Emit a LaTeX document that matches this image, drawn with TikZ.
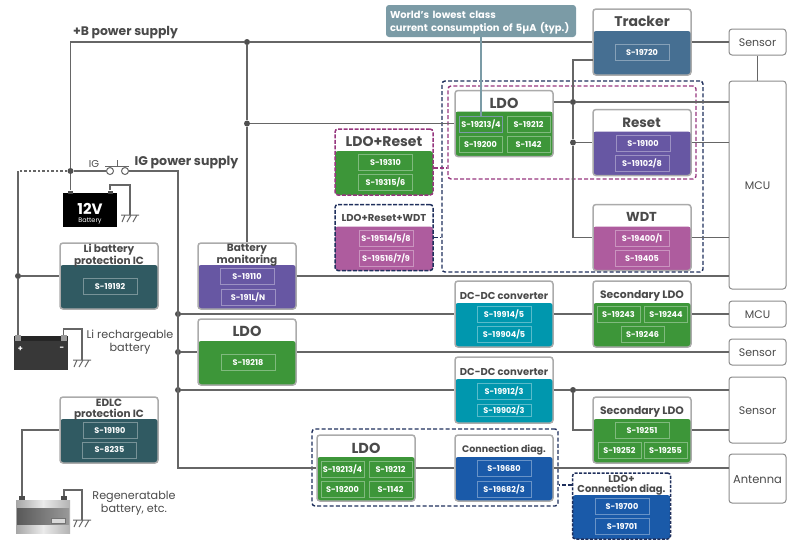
\documentclass[tikz,border=0pt]{standalone}
\usepackage{fontspec}
\setmainfont{Poppins}
\usetikzlibrary{positioning}
\definecolor{wirec}{HTML}{666666}
\definecolor{dotc}{HTML}{4F4F4F}
\definecolor{txtc}{HTML}{4A4A4A}
\definecolor{boxc}{HTML}{ABABAB}
\definecolor{sidec}{HTML}{8C8C8C}
\definecolor{navyc}{HTML}{1F2F5C}
\definecolor{magc}{HTML}{96367E}
\definecolor{greenc}{HTML}{3D9639}
\definecolor{pinkc}{HTML}{AE5C9E}
\definecolor{purplec}{HTML}{6757A3}
\definecolor{steelc}{HTML}{466F92}
\definecolor{tealc}{HTML}{305A62}
\definecolor{cyanc}{HTML}{0097AE}
\definecolor{bluec}{HTML}{1A5AA9}
\definecolor{notec}{HTML}{7B9BA6}
\tikzset{
  wire/.style={draw=wirec,line width=1.2pt},
  dot/.style={circle,fill=dotc,inner sep=0,minimum size=6pt},
  icbox/.style 2 args={draw=boxc,fill=white,line width=1.5pt,rounded corners=3pt,inner sep=0,
    minimum width=98pt,minimum height=66pt,
    path picture={\fill[#1] ([yshift=-#2]path picture bounding box.north west) rectangle (path picture bounding box.south east);}},
  chip/.style={draw=white,draw opacity=.35,line width=.7pt,text=white,inner sep=0,
    minimum width=54pt,minimum height=16pt,font=\bfseries\fontsize{8.1}{8.1}\selectfont},
  chipn/.style={chip,minimum width=43pt},
  ttl/.style={text=txtc,inner sep=0,align=center,yshift=-.5pt,font=\bfseries\fontsize{#1}{#1}\selectfont},
  lab/.style={text=txtc,inner sep=0,align=center,yshift=-.7pt,font=\fontsize{#1}{13}\selectfont},
  sidebox/.style={draw=sidec,fill=white,line width=1pt,rounded corners=3pt,inner sep=0,minimum width=57pt},
  navyframe/.style={draw=navyc,line width=1.4pt,rounded corners=3pt,dash pattern=on 4pt off 2.2pt,inner sep=0},
  magframe/.style={draw=magc,line width=1.4pt,rounded corners=3pt,dash pattern=on 4pt off 2.2pt,inner sep=0},
  gnd/.pic={
    \draw[draw=wirec,line width=1pt] (-9,0)--(9,0) (-5,0)--(-8,7) (1,0)--(-3,7) (7,0)--(3,7);
  }
}
\begin{document}
\begin{tikzpicture}[x=1pt,y=-1pt]
\useasboundingbox (0,0) rectangle (800,550);
\node[icbox={steelc}{22pt}] (tracker) at (642,42) {};
\node[icbox={purplec}{22pt}] (reset) at (642,142.5) {};
\node[icbox={pinkc}{22pt}] (wdt) at (642,237.5) {};
\node[icbox={greenc}{21pt}] (ldoa) at (504,123.5) {};
\node[icbox={greenc}{22pt},draw=magc,dash pattern=on 4pt off 1.5pt] (lr) at (384,162) {};
\node[icbox={pinkc}{22pt},draw=navyc,dash pattern=on 4pt off 1.5pt] (lrw) at (384,237.5) {};
\node[icbox={tealc}{22pt}] (li) at (109,276) {};
\node[icbox={tealc}{22pt}] (edlc) at (109,430) {};
\node[icbox={purplec}{22pt}] (bm) at (247,276) {};
\node[icbox={greenc}{22pt}] (ldob) at (247,352) {};
\node[icbox={cyanc}{22pt}] (dca) at (504,314) {};
\node[icbox={cyanc}{22pt}] (dcb) at (504,390) {};
\node[icbox={greenc}{22pt}] (ldoc) at (366,468) {};
\node[icbox={bluec}{22pt}] (conn) at (504,468) {};
\node[icbox={bluec}{22pt},draw=navyc,dash pattern=on 3pt off 1.5pt] (lc) at (621.5,506) {};
\node[icbox={greenc}{22pt}] (seca) at (642,314) {};
\node[icbox={greenc}{22pt}] (secb) at (642,430) {};
\node[sidebox,minimum height=26pt] (sensa) at (757.5,42) {};
\node[sidebox,minimum height=208pt] (mcua) at (757.5,185) {};
\node[sidebox,minimum height=26pt] (mcub) at (757.5,314) {};
\node[sidebox,minimum height=26pt] (sensb) at (757.5,352) {};
\node[sidebox,minimum height=66pt] (sensc) at (757.5,410) {};
\node[sidebox,minimum height=49pt] (ant) at (757.5,478.5) {};
\node[lab=11] (sensatxt) at (sensa) {Sensor};
\node[lab=11] (mcuatxt) at (mcua) {MCU};
\node[lab=11] (mcubtxt) at (mcub) {MCU};
\node[lab=11] (sensbtxt) at (sensb) {Sensor};
\node[lab=11] (sensctxt) at (sensc) {Sensor};
\node[lab=11.5] (anttxt) at (ant) {Antenna};
\node[ttl=14] (trackertxt) at (642,20.5) {Tracker};
\node[ttl=13.5] (resettxt) at (641.5,122) {Reset};
\node[ttl=13] (wdttxt) at (641.5,216.5) {WDT};
\node[ttl=14.5] (ldoatxt) at (504,103) {LDO};
\node[ttl=14] (lrtxt) at (384,141) {LDO+Reset};
\node[ttl=10] (lrwtxt) at (384,217) {LDO+Reset+WDT};
\node[ttl=10.5] (litxt) at (109,255) {Li battery\\protection IC};
\node[ttl=10.5] (edlctxt) at (109,409) {EDLC\\protection IC};
\node[ttl=10.5] (bmtxt) at (247,255) {Battery\\monitoring};
\node[ttl=14.5] (ldobtxt) at (247,331) {LDO};
\node[ttl=10] (dcatxt) at (504,295) {DC-DC converter};
\node[ttl=10] (dcbtxt) at (504,371) {DC-DC converter};
\node[ttl=14.5] (ldoctxt) at (366,448) {LDO};
\node[ttl=9.5] (conntxt) at (504,449) {Connection diag.};
\node[ttl=10] (lctxt) at (621.5,485) {LDO+\\Connection diag.};
\node[ttl=10.8] (secatxt) at (642,295) {Secondary LDO};
\node[ttl=10.8] (secbtxt) at (642,411) {Secondary LDO};
\node[chip] (c19720) at (642,52.5) {S-19720};
\node[chip] (c19100) at (643,143) {S-19100};
\node[chip] (c19102) at (642,163) {S-19102/8};
\node[chip] (c19400) at (642,238) {S-19400/1};
\node[chip] (c19405) at (642,258) {S-19405};
\node[chipn,draw=notec,draw opacity=1,line width=1.4pt] (c19213a) at (481,124.5) {S-19213/4};
\node[chipn] (c19212a) at (528.5,124.5) {S-19212};
\node[chipn] (c19200a) at (480.5,144) {S-19200};
\node[chipn] (c1142a) at (528.5,144) {S-1142};
\node[chip] (c19310) at (385.5,162) {S-19310};
\node[chip] (c19315) at (385.5,182) {S-19315/6};
\node[chip] (c19514) at (386,238) {S-19514/5/8};
\node[chip] (c19516) at (386,258.5) {S-19516/7/9};
\node[chip] (c19192) at (110,286) {S-19192};
\node[chip] (c19190) at (110,430) {S-19190};
\node[chip] (c8235) at (109.5,450) {S-8235};
\node[chip] (c19110) at (247,276) {S-19110};
\node[chip] (c191ln) at (248,297) {S-191L/N};
\node[chip] (c19218) at (248,362.5) {S-19218};
\node[chip] (c19914) at (504,314.5) {S-19914/5};
\node[chip] (c19904) at (504,334.5) {S-19904/5};
\node[chip] (c19912) at (504,391) {S-19912/3};
\node[chip,minimum height=12pt] (c19902) at (504,410.5) {S-19902/3};
\node[chipn] (c19213b) at (342.5,469) {S-19213/4};
\node[chipn] (c19212b) at (390.5,469) {S-19212};
\node[chipn] (c19200b) at (342.5,489) {S-19200};
\node[chipn] (c1142b) at (390.5,489) {S-1142};
\node[chip] (c19680) at (504,468.5) {S-19680};
\node[chip] (c19682) at (504,489) {S-19682/3};
\node[chip] (c19700) at (622,506.5) {S-19700};
\node[chip] (c19701) at (622,526.5) {S-19701};
\node[chipn] (c19243) at (618.5,314) {S-19243};
\node[chipn] (c19244) at (666,314) {S-19244};
\node[chipn] (c19246) at (642.5,334.5) {S-19246};
\node[chip] (c19251) at (642,430) {S-19251};
\node[chipn] (c19252) at (619.5,450) {S-19252};
\node[chipn] (c19255) at (665.5,450) {S-19255};
\node[navyframe,minimum width=261pt,minimum height=191pt] (groupa) at (572.5,176.5) {};
\node[magframe,minimum width=248pt,minimum height=93pt] (groupb) at (572,132.5) {};
\node[navyframe,minimum width=246pt,minimum height=77pt] (groupc) at (435,467.5) {};
\node[dot] (ja) at (70.5,171) {};
\node[dot] (jb) at (247,42) {};
\node[dot] (jc) at (247,123.5) {};
\node[dot] (jd) at (573,102) {};
\node[dot] (je) at (573,142.5) {};
\node[dot] (jf) at (18,276) {};
\node[dot] (jg) at (178,314) {};
\node[dot] (jh) at (178,352) {};
\node[dot] (ji) at (178,390) {};
\node[dot] (jj) at (573,390) {};
\node[circle,draw=wirec,fill=white,line width=1pt,inner sep=0,minimum size=7pt] (swa) at (110,171) {};
\node[circle,draw=wirec,fill=white,line width=1pt,inner sep=0,minimum size=7pt] (swb) at (125,171) {};
\node[fill=black,inner sep=0,minimum width=54pt,minimum height=34pt] (bata) at (90,210) {};
\node[fill=black!70,inner sep=0,minimum width=5pt,minimum height=3pt] (bataa) at (70.5,192) {};
\node[fill=black!70,inner sep=0,minimum width=5pt,minimum height=3pt] (batab) at (110,192) {};
\node[fill=black!78,inner sep=0,minimum width=54pt,minimum height=34pt] (batb) at (41,353) {};
\node[fill=black!85,inner sep=0,minimum width=54pt,minimum height=5pt] (batbtop) at (41,338.5) {};
\node[fill=black!40,inner sep=0,minimum width=6pt,minimum height=6pt] (batba) at (18,338) {};
\node[fill=black!40,inner sep=0,minimum width=6pt,minimum height=6pt] (batbb) at (63.5,338) {};
\node[left color=black!35,right color=black!30,middle color=black!8,inner sep=0,minimum width=54pt,minimum height=33pt] (batc) at (43,516.5) {};
\node[left color=black!65,right color=black!40,inner sep=0,minimum width=52pt,minimum height=16pt] (batcin) at (43,516) {};
\node[fill=black!15,draw=black!55,line width=.6pt,inner sep=0,minimum width=14pt,minimum height=5pt] (batcchip) at (58,520.5) {};
\node[fill=black!70,inner sep=0,minimum width=6pt,minimum height=4pt] (batca) at (22,498) {};
\node[fill=black!70,inner sep=0,minimum width=6pt,minimum height=4pt] (batcb) at (64,498) {};
\node[text=white,inner sep=0,font=\bfseries\fontsize{15}{15}\selectfont] (battxta) at (90,208.5) {12V};
\node[text=white,inner sep=0,font=\fontsize{6.5}{6.5}\selectfont] (battxtb) at (90,221.5) {Battery};
\node[text=white,inner sep=0,font=\bfseries\fontsize{8}{8}\selectfont] (plustxt) at (20.5,349) {+};
\node[text=white,inner sep=0,font=\bfseries\fontsize{8}{8}\selectfont] (minustxt) at (62,349) {-};
\node[ttl=12.4] (btxt) at (125.5,32) {+B power supply};
\node[ttl=12.6] (igtxt) at (186.5,162) {IG power supply};
\node[lab=10] (igsw) at (94,163) {IG};
\node[lab=11.2] (litext) at (130,341.5) {Li rechargeable\\battery};
\node[lab=11.2] (regentxt) at (134,502.5) {Regeneratable\\battery, etc.};
\node[fill=notec,rounded corners=3pt,inner sep=0,minimum width=190pt,minimum height=32pt] (note) at (481,21) {};
\node[text=white,inner sep=0,text width=185pt,align=left,font=\bfseries\fontsize{9.9}{13}\selectfont] (notetxt) at (482.5,22.5) {World's lowest class\\current consumption of 5µA (typ.)};
\coordinate (trackb) at (593,60);
\coordinate (igdown) at (178,171);
\coordinate (swbar) at (117.5,166);
\coordinate (swtop) at (117.5,160);
\coordinate (linkb) at (22,430);
\coordinate (gnda) at (130,215);
\coordinate (gndat) at (130,185);
\coordinate (gndb) at (82,360);
\coordinate (gndbt) at (82,329);
\coordinate (gndc) at (82,520);
\coordinate (gndct) at (82,490);
\draw[wire] (bataa.north) -- (ja) -- (ja |- jb) -- (jb) -- (tracker.west);
\draw[wire] (tracker.east) -- (sensa.west);
\draw[wire] (sensa.south) -- (sensa.south |- mcua.north);
\draw[wire] (jb) -- (jc) -- (bm.north);
\draw[wire] (jc) -- (ldoa.west);
\draw[wire] (ja) -- (swa.west);
\draw[wire] (swb.east) -- (igdown) -- (igdown |- conn.west) -- (ldoc.west);
\draw[wire] (ldoc.east) -- (conn.west);
\draw[wire] (conn.east) -- (conn.east -| ant.west);
\draw[wire,line width=1pt] (swbar -| swa.west) ++(-1,0) -- (swbar -| swb.east) ++(1,0);
\draw[wire,line width=1pt] (swbar) -- (swtop);
\draw[wire,dash pattern=on 2.5pt off 2pt] (ja) -- (ja -| jf);
\draw[wire] (ja -| jf) -- (jf) -- (batba.north);
\draw[wire] (jf) -- (li.west);
\draw[wire] (bm.east) -- (bm.east -| mcua.west);
\draw[wire] (trackb) -- (trackb -| jd) -- (jd) -- (je) -- (je |- wdt.west) -- (wdt.west);
\draw[wire] (jd -| ldoa.east) -- (jd) -- (jd -| mcua.west);
\draw[wire] (je) -- (reset.west);
\draw[wire] (reset.east) -- (reset.east -| mcua.west);
\draw[wire] (wdt.east) -- (wdt.east -| mcua.west);
\draw[wire] (jg) -- (dca.west);
\draw[wire] (dca.east) -- (seca.west);
\draw[wire] (seca.east) -- (mcub.west);
\draw[wire] (jh) -- (ldob.west);
\draw[wire] (ldob.east) -- (sensb.west);
\draw[wire] (ji) -- (dcb.west);
\draw[wire] (dcb.east) -- (jj) -- (jj -| sensc.west);
\draw[wire] (jj) |- (secb.west);
\draw[wire] (secb.east) -- (secb.east -| sensc.west);
\draw[wire] (edlc.west) -- (linkb) -- (batca.north);
\draw[wire] (batab.north) |- (gndat) -- (gnda);
\draw[wire] (batbb.north) |- (gndbt) -- (gndb);
\draw[wire] (batcb.north) |- (gndct) -- (gndc);
\pic at (gnda) {gnd};
\pic at (gndb) {gnd};
\pic at (gndc) {gnd};
\draw[draw=notec,line width=1.4pt] (note.south) -- (c19213a.north);
\draw[magframe] ([yshift=-6pt]lr.east) -- ([yshift=-6pt]lr.east -| groupb.west);
\draw[navyframe] (lrw.east) -- (lrw.east -| groupa.west);
\draw[navyframe] ([yshift=21pt]lc.west) -- ([yshift=21pt]lc.west -| groupc.east);
\end{tikzpicture}
\end{document}
